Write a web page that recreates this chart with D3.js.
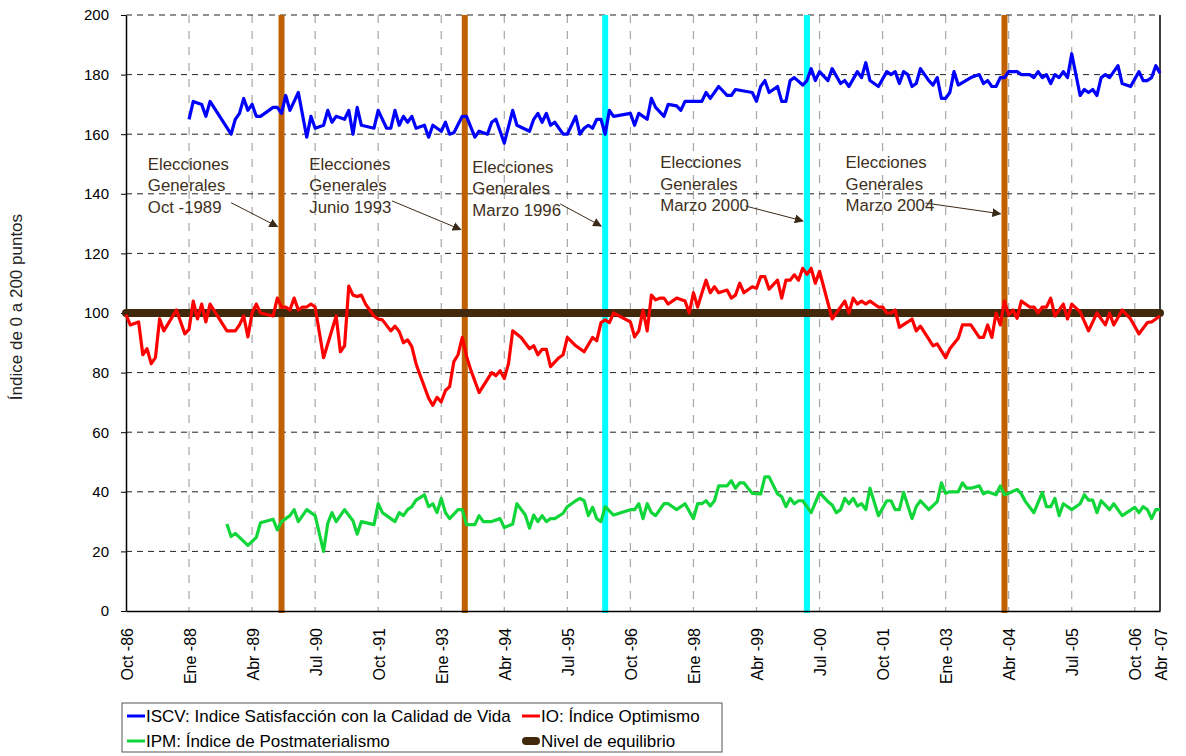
<!DOCTYPE html>
<html>
<head>
<meta charset="utf-8">
<script src="https://cdn.jsdelivr.net/npm/d3@7"></script>
<style>
  body { margin: 0; background: #fff; }
  text { font-family: Arial, "Liberation Sans", sans-serif; }
</style>
</head>
<body>
<div id="chart"></div>
<script>
/* Months counted from Oct-1986 (0) to Abr-2007 (246) */
const xTickMonths = [0, 15, 30, 45, 60, 75, 90, 105, 120, 135, 150, 165, 180, 195, 210, 225, 240, 246];
const xTickLabels = ["Oct -86", "Ene -88", "Abr -89", "Jul -90", "Oct -91", "Ene -93", "Abr -94", "Jul -95",
  "Oct -96", "Ene -98", "Abr -99", "Jul -00", "Oct -01", "Ene -03", "Abr -04", "Jul -05", "Oct -06", "Abr -07"];
const yTicks = [0, 20, 40, 60, 80, 100, 120, 140, 160, 180, 200];

/* ISCV: [month, value] */
const iscv = [
  [15,165],[16,171],[18,170],[19,166],[20,171],[25,160],[26,165],[27,167],[28,172],[29,168],[30,170],[31,166],
  [32,166],[35,169],[36,169],[37,167],[38,173],[39,168],[41,174],[43,159],[44,166],[45,162],[47,163],[48,168],
  [49,164],[50,166],[52,165],[53,168],[54,160],[55,169],[56,163],[59,162],[60,168],[62,162],[63,162],[64,168],
  [65,163],[66,166],[67,164],[68,166],[69,162],[71,163],[72,159],[73,163],[75,161],[76,164],[77,160],[78,160.5],
  [80,166],[81,166],[83,159],[84,161],[86,160],[87,164],[88,165],[90,157],[92,168],[93,163],[96,161],[97,165],
  [98,167],[99,164],[100,167],[101,163],[102,164],[104,160],[105,160],[107,166],[108,160],[109,162],[110,163],
  [111,162],[112,165],[113,165],[114,160],[115,168],[116,166],[120,167],[121,163],[122,167],[124,165],[125,172],
  [126,169],[128,166],[129,170],[131,169.5],[132,168],[133,171],[137,171],[138,174],[139,172],[141,176],[143,173],
  [144,173],[145,175],[149,174],[150,171],[151,176],[152,178],[153,174],[155,176],[156,171],[157,171],[158,178],
  [159,179],[161,176.5],[162,178],[163,182],[164,178],[165,181],[167,178],[168,182],[170,177],[171,178],[172,176],
  [174,181],[175,179],[176,184],[177,178],[179,176],[181,181],[182,180],[183,181],[184,177],[185,181],[186,180],
  [187,176],[188,177],[189,182],[191,178],[192,176.5],[193,179],[194,172],[195,172],[196,174],[197,181],[198,176.5],
  [201,179],[203,180],[204,177],[205,178],[206,176],[207,176],[208,179],[209,179],[210,181],[212,181],[213,180],
  [215,180],[216,179],[217,181],[218,179],[219,180],[220,177],[221,180],[222,179],[223,181],[224,179],[225,187],
  [227,173],[228,175],[229,174],[230,175],[231,173],[232,179],[233,180],[234,179],[236,183],[237,177],[239,176],
  [241,181],[242,178],[243,178],[244,179],[245,183],[246,180.5]
];

/* IO: [month, value] */
const io = [
  [0,99.5],[1,96],[3,97],[4,86],[5,88],[6,83],[7,85],[8,98],[9,94],[12,101],[14,93],[15,94.5],[16,104],[17,98],
  [18,103],[19,97],[20,103],[24,94],[26,94],[27,96],[28,99],[29,92],[30,100],[31,103],[32,100],[35,99],[36,105],
  [37,102],[38,102],[39,101],[40,105],[41,101],[42,102],[43,102],[44,103],[45,102],[47,85],[50,99],[51,87],[52,89],
  [53,109],[54,106],[55,105.5],[56,106],[57,103],[59,99],[60,98],[61,97.7],[63,94],[64,95.6],[65,93.8],[66,90],
  [67,91],[68,88.7],[69,83],[70,79],[72,71.4],[73,69],[74,71.7],[75,70.2],[76,74],[77,75.3],[78,83.7],[79,86],
  [80,91.8],[81,85.6],[82,81],[84,73.3],[87,80],[88,79],[89,80.6],[90,78],[91,83],[92,94],[94,91.8],[96,88],[97,89],
  [98,86],[99,87.8],[100,87.8],[101,82],[103,85],[104,86],[105,91.8],[107,89],[109,87],[111,91.8],[112,90.7],
  [113,96.8],[114,97.7],[115,96.8],[116,100],[120,97],[121,92],[122,94],[123,101],[124,94],[125,106],[126,104.4],
  [127,105],[128,105],[129,103],[131,105],[133,104],[134,100],[135,106.8],[136,102],[137,106.6],[138,111],[139,106.8],
  [140,108.8],[141,106.8],[143,107.7],[144,105],[145,106],[146,110],[147,106.8],[149,108.8],[150,108.3],[151,112.2],
  [152,112.2],[153,108],[155,111],[156,105],[157,111],[158,111],[159,112.8],[160,111],[161,115],[162,113],[163,115],
  [164,110],[165,114],[168,98],[171,104],[172,100],[173,105],[174,103],[175,104],[176,103],[177,104],[179,102],
  [180,102],[181,100],[182,100],[183,101],[184,95.2],[186,97],[187,98],[188,94],[189,95.6],[191,91.2],[192,89],
  [193,89.6],[195,85],[196,88],[198,91.5],[199,96],[201,96],[203,91.8],[204,91.8],[205,96],[206,91.8],[207,100],
  [208,96],[209,104],[210,99.3],[211,101],[212,98.2],[213,104],[215,102],[216,102],[217,100],[218,102],[219,102],
  [220,105],[221,99],[223,103],[224,98],[225,103],[227,100.4],[229,94],[231,100],[233,96],[234,100],[235,96],
  [237,101],[239,98],[241,93],[243,96.8],[244,97],[246,99]
];

/* IPM: [month, value] */
const ipm = [
  [24,29.2],[25,25],[26,26],[27,24.7],[29,22],[31,24.7],[32,29.6],[35,30.8],[36,27.2],[37,30],[39,32],[40,34],
  [41,30],[43,34],[45,32],[47,20],[48,29.4],[49,33],[50,30],[52,34],[54,30.3],[55,25.8],[56,30],[59,29],[60,36],
  [61,33],[64,30],[65,33],[66,32],[67,34],[68,35],[69,37.2],[71,39],[72,35],[73,36],[74,33],[75,37.8],[76,33],
  [77,31],[79,34],[80,34],[81,29],[83,29],[84,32],[85,30],[87,30],[89,31],[90,28],[92,29.2],[93,36],[95,32.2],
  [96,27.8],[97,32.2],[98,30],[99,32],[100,30],[101,31],[102,31],[104,32.8],[105,35],[107,37],[108,37.8],[109,37],
  [110,32],[111,34.8],[112,31],[113,30],[114,35],[116,32.2],[120,34],[121,34],[122,36],[123,31],[124,36],[125,33],
  [126,32],[128,36],[129,36],[131,34],[133,36],[135,31],[136,36],[137,36],[138,37],[139,35.2],[140,37],[141,42],
  [143,42],[144,43.7],[145,41.2],[146,43],[147,43],[148,41.2],[149,39.5],[151,39.3],[152,45],[153,45],[155,39.3],
  [156,38.4],[157,35],[158,37.8],[159,36],[160,37],[161,37],[163,33],[165,39.7],[167,36.7],[168,35.6],[169,33],
  [170,34],[171,37.8],[172,36],[173,37.8],[174,35.2],[175,36],[176,34],[177,41.2],[179,32],[181,37],[182,37],
  [183,34],[184,34],[185,39.8],[187,31],[188,35],[189,37],[191,34],[193,36.7],[194,43],[195,39.5],[196,40],
  [198,40],[199,43],[200,41.2],[201,41.2],[203,42],[204,39.3],[205,40],[207,39],[208,42],[209,39],[210,39.5],
  [212,40.8],[213,39.3],[214,36.7],[216,33],[218,39.8],[219,35],[220,35],[221,37.8],[222,32],[223,36],[225,34],
  [227,36],[228,39],[229,37.2],[230,37.2],[231,33],[232,37],[234,34],[235,36],[237,32],[240,34.8],[241,33],
  [242,35],[243,34],[244,31],[245,34],[246,34]
];

const equilibrium = 100;

/* Election markers */
const eventMonths = [37, 80.6, 114, 162, 209];
const eventColors = ["#c06000", "#c06000", "#00ffff", "#00ffff", "#c06000"];

/* Annotation text: left month, value of first line, arrow start [month, value], arrow end value */
const annLines = [
  ["Elecciones", "Generales", "Oct -1989"],
  ["Elecciones", "Generales", "Junio 1993"],
  ["Elecciones", "Generales", "Marzo 1996"],
  ["Elecciones", "Generales", "Marzo 2000"],
  ["Elecciones", "Generales", "Marzo 2004"]
];
const annMonths = [5.2, 43.6, 82.4, 127.1, 171.2];
const annValues = [150, 150, 149, 150.5, 150.5];
const arrowStarts = [[25, 137], [63.3, 137.6], [103.3, 136.6], [147.4, 135.9], [190.2, 136.9]];
const arrowEndValues = [129, 128, 129.2, 130.9, 133.3];

const legendItems = [
  { label: "ISCV: Indice Satisfacción con la Calidad de Vida", color: "#0000ff", w: 3, col: 0, row: 0 },
  { label: "IO: Índice Optimismo", color: "#ff0000", w: 3, col: 1, row: 0 },
  { label: "IPM: Índice de Postmaterialismo", color: "#11d63a", w: 3, col: 0, row: 1 },
  { label: "Nivel de equilibrio", color: "#42290b", w: 8, col: 1, row: 1 }
];

const width = 1186, height = 756;
const margins = { top: 15, right: 26, bottom: 145, left: 126 };

const svg = d3.select("#chart")
  .append("svg")
  .attr("width", width)
  .attr("height", height)
  .attr("viewBox", [0, 0, width, height]);

const x = d3.scaleLinear().domain([0, 246]).range([margins.left, width - margins.right]);
const y = d3.scaleLinear().domain([0, 200]).range([height - margins.bottom, margins.top]);

/* Gridlines */
svg.append("g")
  .selectAll("line")
  .data(xTickMonths.filter(d => d > 0 && d < 246))
  .join("line")
    .attr("x1", d => x(d)).attr("x2", d => x(d))
    .attr("y1", y(200)).attr("y2", y(0))
    .attr("stroke", "#a6a6a6")
    .attr("stroke-width", 1.2)
    .attr("stroke-dasharray", "8,8");

svg.append("g")
  .selectAll("line")
  .data(yTicks.filter(d => d > 0))
  .join("line")
    .attr("x1", x(0)).attr("x2", x(246))
    .attr("y1", d => y(d)).attr("y2", d => y(d))
    .attr("stroke", "#222")
    .attr("stroke-width", 1)
    .attr("stroke-dasharray", "6,5");

/* Election lines */
svg.append("g")
  .selectAll("line")
  .data(eventMonths)
  .join("line")
    .attr("x1", d => x(d)).attr("x2", d => x(d))
    .attr("y1", y(200)).attr("y2", y(0) + 2)
    .attr("stroke", (d, i) => eventColors[i])
    .attr("stroke-width", 6);

/* Axes */
const xAxis = svg.append("g")
  .attr("transform", `translate(0,${y(0)})`)
  .call(d3.axisBottom(x).tickValues(xTickMonths).tickSize(0).tickFormat(""));
xAxis.select(".domain").attr("stroke", "#000").attr("stroke-width", 1.5);

svg.append("g")
  .selectAll("text")
  .data(xTickMonths)
  .join("text")
    .attr("transform", d => `translate(${x(d) + 1},${y(0) + 17}) rotate(-90)`)
    .attr("text-anchor", "end")
    .attr("dy", "0.35em")
    .attr("font-size", "16px")
    .attr("fill", "#000")
    .text((d, i) => xTickLabels[i]);

const yAxis = svg.append("g")
  .attr("transform", `translate(${x(0)},0)`)
  .call(d3.axisLeft(y).tickValues(yTicks).tickSize(5).tickSizeOuter(0).tickPadding(12));
yAxis.select(".domain").attr("stroke", "#000").attr("stroke-width", 1.5);
yAxis.selectAll(".tick line").attr("stroke", "#000");
yAxis.selectAll(".tick text").attr("font-size", "15px").attr("font-family", "Arial, 'Liberation Sans', sans-serif").attr("fill", "#000");

/* Right border */
svg.append("line")
  .attr("x1", x(246)).attr("x2", x(246))
  .attr("y1", y(200)).attr("y2", y(0))
  .attr("stroke", "#000").attr("stroke-width", 1.5);

svg.append("text")
  .attr("transform", `translate(22,${y(102)}) rotate(-90)`)
  .attr("text-anchor", "middle")
  .attr("font-size", "17px")
  .attr("fill", "#222")
  .text("Índice de 0 a 200 puntos");

/* Equilibrium line */
svg.append("line")
  .attr("x1", x(0)).attr("x2", x(246))
  .attr("y1", y(equilibrium)).attr("y2", y(equilibrium))
  .attr("stroke", "#42290b")
  .attr("stroke-width", 8)
  .attr("stroke-linecap", "round");

/* Series */
const line = d3.line().x(d => x(d[0])).y(d => y(d[1]));
[[iscv, "#0000ff"], [io, "#ff0000"], [ipm, "#11d63a"]].forEach(([data, color]) => {
  svg.append("path")
    .datum(data)
    .attr("fill", "none")
    .attr("stroke", color)
    .attr("stroke-width", 3.2)
    .attr("stroke-linejoin", "round")
    .attr("d", line);
});

/* Annotations */
svg.append("defs").append("marker")
  .attr("id", "arrow")
  .attr("viewBox", "0 0 10 10")
  .attr("refX", 9).attr("refY", 5)
  .attr("markerWidth", 9).attr("markerHeight", 9)
  .attr("markerUnits", "userSpaceOnUse")
  .attr("orient", "auto")
  .append("path")
    .attr("d", "M0,0 L10,5 L0,10 z")
    .attr("fill", "#3a2a1a");

annLines.forEach((lines, i) => {
  const t = svg.append("text")
    .attr("x", x(annMonths[i]))
    .attr("y", y(annValues[i]))
    .attr("font-size", "16.8px")
    .attr("fill", "#40301c");
  lines.forEach((s, j) => {
    t.append("tspan")
      .attr("x", x(annMonths[i]))
      .attr("dy", j === 0 ? "0.35em" : "21.5")
      .text(s);
  });
  svg.append("line")
    .attr("x1", x(arrowStarts[i][0])).attr("y1", y(arrowStarts[i][1]))
    .attr("x2", x(eventMonths[i]) - 4).attr("y2", y(arrowEndValues[i]))
    .attr("stroke", "#3a2a1a")
    .attr("stroke-width", 1)
    .attr("marker-end", "url(#arrow)");
});

/* Legend */
const legend = svg.append("g").attr("transform", "translate(122,703)");
legend.append("rect")
  .attr("width", 600).attr("height", 49)
  .attr("fill", "#fff").attr("stroke", "#555").attr("stroke-width", 1);

const legendCols = [5, 400], legendRows = [13, 38];
legendItems.forEach(d => {
  const g = legend.append("g")
    .attr("transform", `translate(${legendCols[d.col]},${legendRows[d.row]})`);
  g.append("line")
    .attr("x1", d.w > 4 ? 4 : 0).attr("x2", d.w > 4 ? 14 : 18)
    .attr("stroke", d.color).attr("stroke-width", d.w)
    .attr("stroke-linecap", d.w > 4 ? "round" : "butt");
  g.append("text")
    .attr("x", 19)
    .attr("dy", "0.35em")
    .attr("font-size", "17px")
    .attr("fill", "#000")
    .text(d.label);
});
</script>
</body>
</html>
